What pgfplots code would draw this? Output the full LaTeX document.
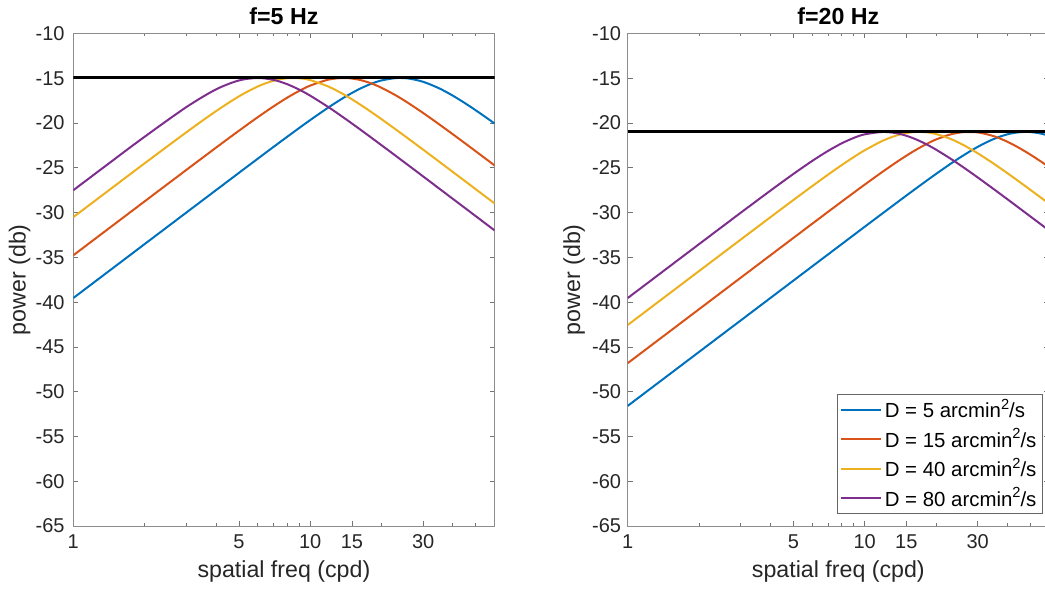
\documentclass[border=0pt]{standalone}
\usepackage{fontspec}
\setmainfont{Liberation Sans}
\usepackage{pgfplots}
\usepackage{pgfplotstable}
\pgfplotsset{compat=1.18}
\definecolor{mblue}{rgb}{0,0.447,0.741}
\definecolor{mred}{rgb}{0.850,0.325,0.098}
\definecolor{myellow}{rgb}{0.929,0.694,0.125}
\definecolor{mpurple}{rgb}{0.494,0.184,0.556}
\newcommand{\sq}{\raisebox{0.42em}{\fontsize{11}{11}\selectfont 2}}

\pgfplotstableread{
k d5 d15 d40 d80
1 -39.542 -34.771 -30.512 -27.505
1.5 -36.020 -31.249 -26.993 -23.996
2 -33.521 -28.752 -24.504 -21.534
3 -30.001 -25.239 -21.037 -18.225
4 -27.505 -22.760 -18.681 -16.250
5 -25.571 -20.866 -17.030 -15.247
6 -23.996 -19.360 -15.926 -14.972
7 -22.672 -18.146 -15.277 -15.181
8 -21.534 -17.169 -14.999 -15.666
9 -20.543 -16.404 -15.004 -16.281
10 -19.673 -15.824 -15.209 -16.944
12 -18.224 -15.142 -15.955 -18.265
14 -17.100 -14.973 -16.876 -19.487
16 -16.250 -15.154 -17.820 -20.587
18 -15.642 -15.551 -18.724 -21.579
20 -15.246 -16.064 -19.569 -22.477
23 -14.985 -16.916 -20.725 -23.676
26 -15.030 -17.783 -21.759 -24.732
30 -15.400 -18.884 -22.981 -25.970
35 -16.120 -20.136 -24.307 -27.306
40 -16.944 -21.254 -25.461 -28.465
45 -17.779 -22.253 -26.480 -29.487
50 -18.581 -23.155 -27.394 -30.401
55 -19.340 -23.975 -28.220 -31.229
60 -20.052 -24.726 -28.976 -31.985
}\tabA

\pgfplotstableread{
k d5 d15 d40 d80
1 -51.584 -46.813 -42.552 -39.543
1.5 -48.062 -43.291 -39.031 -36.022
2 -45.563 -40.792 -36.533 -33.526
3 -42.042 -37.271 -33.015 -30.018
4 -39.543 -34.774 -30.526 -27.556
5 -37.605 -32.839 -28.607 -25.694
6 -36.022 -31.260 -27.058 -24.246
7 -34.684 -29.929 -25.776 -23.122
8 -33.526 -28.781 -24.702 -22.271
9 -32.504 -27.777 -23.802 -21.663
10 -31.592 -26.887 -23.051 -21.268
12 -30.017 -25.381 -21.947 -20.993
14 -28.693 -24.167 -21.298 -21.202
16 -27.556 -23.191 -21.021 -21.686
18 -26.565 -22.427 -21.024 -22.301
20 -25.694 -21.845 -21.230 -22.965
23 -24.575 -21.280 -21.763 -23.963
26 -23.648 -21.025 -22.427 -24.911
30 -22.665 -21.050 -23.372 -26.072
35 -21.794 -21.459 -24.524 -27.361
40 -21.268 -22.084 -25.589 -28.497
45 -21.026 -22.793 -26.561 -29.507
50 -21.009 -23.518 -27.447 -30.414
55 -21.157 -24.227 -28.257 -31.238
60 -21.421 -24.905 -29.002 -31.991
}\tabB

\begin{document}
\begin{tikzpicture}
\begin{axis}[
    xmode=log, scale only axis, width=315.9pt, height=369.4pt,
    at={(54.98pt,49.5pt)}, anchor=south west,
    xmin=1, xmax=60, ymin=-65, ymax=-10,
    xtick={1,5,10,15,30}, xticklabels={1,5,10,15,30},
    minor xtick={2,3,4,6,7,8,9,20,40,50},
    ytick={-65,-60,-55,-50,-45,-40,-35,-30,-25,-20,-15,-10},
    yticklabels={-65,-60,-55,-50,-45,-40,-35,-30,-25,-20,-15,-10},
    tick align=inside, major tick length=3.75pt, minor tick length=2.25pt,
    axis line style={black!45}, tick style={black!55, line width=0.5pt},
    tick label style={font=\fontsize{15}{17}\selectfont, text=black!85},
    yticklabel style={xshift=-3pt}, xticklabel style={yshift=-3pt},
    xlabel={spatial freq (cpd)}, ylabel={power (db)},
    label style={font=\fontsize{17.4}{20}\selectfont, text=black!85},
    xlabel style={yshift=-2pt}, ylabel style={yshift=-3pt},
    title style={font=\bfseries\fontsize{17.4}{20}\selectfont, yshift=-3pt},
    title={f=5 Hz},
  ]
\addplot[mblue, line width=1.5pt, smooth] table[x=k,y=d5] {\tabA};
\addplot[mred, line width=1.5pt, smooth] table[x=k,y=d15] {\tabA};
\addplot[myellow, line width=1.5pt, smooth] table[x=k,y=d40] {\tabA};
\addplot[mpurple, line width=1.5pt, smooth] table[x=k,y=d80] {\tabA};
\addplot[black, line width=2.25pt] coordinates {(1,-14.972) (60,-14.972)};
\end{axis}
\begin{axis}[
    xmode=log, scale only axis, width=315.9pt, height=369.4pt,
    at={(470.8pt,49.5pt)}, anchor=south west,
    xmin=1, xmax=60, ymin=-65, ymax=-10,
    xtick={1,5,10,15,30}, xticklabels={1,5,10,15,30},
    minor xtick={2,3,4,6,7,8,9,20,40,50},
    ytick={-65,-60,-55,-50,-45,-40,-35,-30,-25,-20,-15,-10},
    yticklabels={-65,-60,-55,-50,-45,-40,-35,-30,-25,-20,-15,-10},
    tick align=inside, major tick length=3.75pt, minor tick length=2.25pt,
    axis line style={black!45}, tick style={black!55, line width=0.5pt},
    tick label style={font=\fontsize{15}{17}\selectfont, text=black!85},
    yticklabel style={xshift=-1.5pt}, xticklabel style={yshift=-3pt},
    xlabel={spatial freq (cpd)}, ylabel={power (db)},
    label style={font=\fontsize{17.4}{20}\selectfont, text=black!85},
    xlabel style={yshift=-2pt}, ylabel style={yshift=-1.5pt},
    title style={font=\bfseries\fontsize{17.4}{20}\selectfont, yshift=-3pt},
    title={f=20 Hz},
    legend cell align=left,
    legend style={at={(0.9836,0.0244)}, anchor=south east, draw=black!60,
      fill=white, font=\fontsize{15.3}{17}\selectfont, inner sep=2pt,
      row sep=2.5pt},
    legend image code/.code={\draw[#1] (0pt,0pt) -- (30pt,0pt);},
  ]
\addplot[mblue, line width=1.5pt, smooth] table[x=k,y=d5] {\tabB};
\addlegendentry{D = 5 arcmin\sq/s}
\addplot[mred, line width=1.5pt, smooth] table[x=k,y=d15] {\tabB};
\addlegendentry{D = 15 arcmin\sq/s}
\addplot[myellow, line width=1.5pt, smooth] table[x=k,y=d40] {\tabB};
\addlegendentry{D = 40 arcmin\sq/s}
\addplot[mpurple, line width=1.5pt, smooth] table[x=k,y=d80] {\tabB};
\addlegendentry{D = 80 arcmin\sq/s}
\addplot[black, line width=2.25pt, forget plot] coordinates {(1,-20.992) (60,-20.992)};
\end{axis}
\pgfresetboundingbox
\path[use as bounding box] (0,0) rectangle (783.75pt,444pt);
\end{tikzpicture}
\end{document}
